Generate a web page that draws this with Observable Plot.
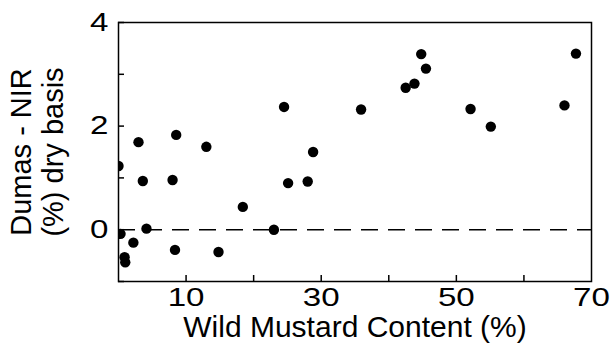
<!DOCTYPE html>
<html>
<head>
<meta charset="utf-8">
<script src="https://cdn.jsdelivr.net/npm/d3@7"></script>
<script src="https://cdn.jsdelivr.net/npm/@observablehq/plot@0.6"></script>
<style>
  html, body { margin: 0; padding: 0; background: white; }
</style>
</head>
<body>
<div id="chart"></div>
<script>
const mustard = [0, 2.96, 8.54, 13.0, 24.5, 28.8, 3.6, 8.0, 25.1, 28.0, 18.4, 4.14, 23.0, 0.3, 2.2, 0.9, 1.0, 8.36, 14.8, 35.9, 42.5, 43.8, 44.8, 45.5, 52.1, 55.1, 66.0, 67.7];
const diff    = [1.23, 1.69, 1.83, 1.60, 2.37, 1.50, 0.94, 0.96, 0.90, 0.93, 0.44, 0.02, 0.0, -0.08, -0.25, -0.53, -0.63, -0.39, -0.43, 2.32, 2.74, 2.82, 3.39, 3.11, 2.33, 1.99, 2.40, 3.40];
const xTicks = [10, 20, 30, 40, 50, 60];
const xTickLabels = [10, 30, 50, 70];
const yTicks = [-1, 0, 1, 2, 3, 4];
const yTickLabels = [0, 2, 4];
const xTitle = "Wild Mustard Content (%)";
const yTitle = "Dumas - NIR\n(%) dry basis";

const data = mustard.map((x, i) => ({x, y: diff[i]}));

const chart = Plot.plot({
  width: 611,
  height: 353,
  marginLeft: 118,
  marginRight: 20,
  marginTop: 22,
  marginBottom: 72,
  x: {domain: [0, 70]},
  y: {domain: [-1, 4]},
  style: {fontFamily: "'Liberation Sans', Arial, Helvetica, sans-serif", fontSize: "26px", background: "white", color: "black"},
  marks: [
    Plot.ruleY([0], {stroke: "black", strokeWidth: 1.5, strokeDasharray: "17,10"}),
    Plot.dot(data, {x: "x", y: "y", r: 5.2, fill: "black", stroke: null, clip: true}),
    Plot.frame({stroke: "black", strokeWidth: 1.5}),
    Plot.axisX(xTicks, {tickSize: -6, text: null, strokeWidth: 1.5, label: null}),
    Plot.axisX(xTickLabels, {tickSize: 0, tickPadding: 6, fontSize: 25, tickFormat: d => String(d), label: null}),
    Plot.axisY(yTicks, {tickSize: -6, text: null, strokeWidth: 1.5, label: null}),
    Plot.axisY(yTickLabels, {tickSize: 0, tickPadding: 10, fontSize: 25, tickFormat: d => String(d), label: null}),
    Plot.text([xTitle], {frameAnchor: "bottom", dy: 34, lineAnchor: "top", textAnchor: "middle", fontSize: 30, fill: "black"}),
    Plot.text([yTitle], {frameAnchor: "left", dx: -82, rotate: -90, textAnchor: "middle", lineAnchor: "middle", lineHeight: 1.11, fontSize: 29, fill: "black"})
  ]
});
// widen the tick digits, as in the reference typeface
d3.select(chart).selectAll("text")
  .filter(function() { return /^-?\d+$/.test(this.textContent.trim()); })
  .each(function() {
    this.setAttribute("font-size", "25.5");
    const t = this.getAttribute("transform");
    if (t && t.includes("translate")) {
      this.setAttribute("transform", t + " scale(1.3,1)");
    } else {
      const x = +(this.getAttribute("x") || 0), y = +(this.getAttribute("y") || 0);
      this.removeAttribute("x"); this.removeAttribute("y");
      this.setAttribute("transform", `translate(${x},${y}) scale(1.3,1)`);
    }
  });
document.getElementById("chart").appendChild(chart);
</script>
</body>
</html>
